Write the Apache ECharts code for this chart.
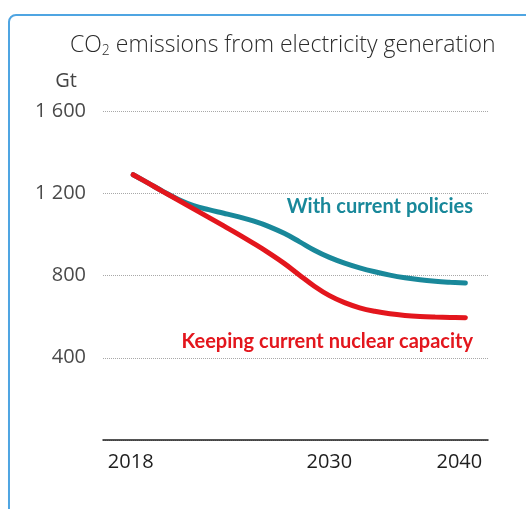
<!DOCTYPE html>
<html>
<head>
<meta charset="utf-8">
<script src="https://cdn.jsdelivr.net/npm/echarts@6/dist/echarts.min.js"></script>
<style>
  html, body { margin: 0; padding: 0; background: #ffffff; }
  #chart { width: 526px; height: 509px; }
</style>
</head>
<body>
<div id="chart"></div>
<script>
// CO2 emissions from electricity generation, Gt
const years = [2018, 2019, 2020, 2021, 2022, 2023, 2024, 2025, 2026, 2027, 2028,
  2029, 2030, 2031, 2032, 2033, 2034, 2035, 2036, 2037, 2038, 2039, 2040];
const currentPolicies = [1290, 1249, 1208, 1170, 1140, 1120, 1103, 1085, 1064, 1038, 1005,
  965, 923, 888, 860, 837, 818, 802, 789, 779, 772, 767, 763];
const keepingNuclear = [1290, 1249, 1207, 1166, 1124, 1083, 1041, 999, 955, 909, 859,
  803, 748, 702, 668, 643, 626, 614, 606, 601, 598, 596, 595];
const seriesNames = ['With current policies', 'Keeping current nuclear capacity'];
const xTickYears = [2018, 2030, 2040];
const yTicks = [0, 400, 800, 1200, 1600];
const chartTitle = 'CO{sub|2} emissions from electricity generation';
const unitName = 'Gt';

const teal = '#19889a';
const red = '#e3161d';

function pairs(vals) {
  return years.map((y, i) => [y, vals[i]]);
}
function fmtThousands(v) {
  if (v === 0) return '';
  if (v < 1000) return String(v);
  return Math.floor(v / 1000) + ' ' + String(v % 1000).padStart(3, '0');
}
// year labels sit a little off their ticks: the middle one nudged right, the last one left
function fmtYear(v) {
  if (v === 2030) return '{mid|' + v + '}';
  if (v === 2040) return '{last|' + v + '}';
  return '{first|' + v + '}';
}
const yearLabelFont = { fontFamily: 'Open Sans', fontSize: 20, color: '#1e1e1e' };

const chart = echarts.init(document.getElementById('chart'), null, { renderer: 'canvas' });

chart.setOption({
  animation: false,
  backgroundColor: '#ffffff',
  graphic: [{
    type: 'rect',
    shape: { x: 9, y: 15, width: 640, height: 640, r: 7 },
    style: { fill: 'none', stroke: '#4fa5e2', lineWidth: 2 },
    silent: true
  }],
  title: [{
    text: chartTitle,
    left: 70, top: 32, padding: 0,
    textStyle: {
      fontFamily: 'Open Sans', fontWeight: 300, fontSize: 23, color: '#2b2b2b',
      rich: { sub: { fontFamily: 'Open Sans', fontWeight: 300, fontSize: 14, color: '#2b2b2b', verticalAlign: 'bottom', padding: [12, 0, 0, 0] } }
    }
  }, {
    text: seriesNames[0],
    right: 53, top: 197, padding: 0,
    textStyle: { fontFamily: 'Lato', fontWeight: 'bold', fontSize: 20, color: teal }
  }, {
    text: seriesNames[1],
    right: 53, top: 332, padding: 0,
    textStyle: { fontFamily: 'Lato', fontWeight: 'bold', fontSize: 20, color: red }
  }],
  grid: { left: 103, right: 38, top: 111, bottom: 69, containLabel: false },
  xAxis: {
    type: 'value',
    min: 2016, max: 2041.5,
    splitLine: { show: false },
    axisTick: { show: false },
    axisLine: { show: true, lineStyle: { color: '#1e1e1e', width: 1.5 } },
    axisLabel: {
      customValues: xTickYears,
      formatter: fmtYear,
      margin: 12,
      ...yearLabelFont,
      rich: {
        first: { ...yearLabelFont, padding: [0, 5, 0, 0] },
        mid: { ...yearLabelFont, padding: [0, 0, 0, 30] },
        last: { ...yearLabelFont, padding: [0, 12, 0, 0] }
      }
    }
  },
  yAxis: {
    type: 'value',
    min: yTicks[0], max: yTicks[yTicks.length - 1], interval: 400,
    name: unitName,
    nameLocation: 'end',
    nameGap: 20,
    nameTextStyle: { fontFamily: 'Open Sans', fontSize: 20, color: '#444', align: 'right', padding: [0, 26, 0, 0] },
    axisLine: { show: false },
    axisTick: { show: false },
    splitLine: { show: true, lineStyle: { type: 'dotted', color: '#a8a8a8', width: 1 } },
    axisLabel: {
      formatter: fmtThousands,
      margin: 17,
      fontFamily: 'Open Sans', fontSize: 20, color: '#4a4a4a'
    }
  },
  series: [{
    name: seriesNames[0],
    type: 'line',
    data: pairs(currentPolicies),
    smooth: 0.4,
    showSymbol: false,
    lineStyle: { color: teal, width: 5, cap: 'round' },
    z: 2
  }, {
    name: seriesNames[1],
    type: 'line',
    data: pairs(keepingNuclear),
    smooth: 0.4,
    showSymbol: false,
    lineStyle: { color: red, width: 5, cap: 'round' },
    z: 3
  }]
});
</script>
</body>
</html>
